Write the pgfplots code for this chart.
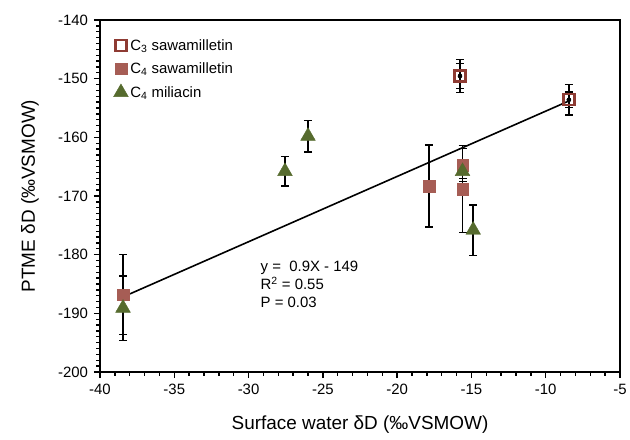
\documentclass[border=0pt]{standalone}
\usepackage{pgfplots}
\pgfplotsset{compat=1.18}
\usepackage{pgfplotstable}
\usepackage{fontspec}
\setmainfont{Liberation Sans}
\definecolor{cthree}{HTML}{8E3B33}
\definecolor{cfour}{HTML}{A65D55}
\definecolor{mil}{HTML}{566B2E}

\pgfplotstableread{
x y e
-15.77 -149.55 2.85
-8.44 -153.6 2.6
}\cthreetab
\pgfplotstableread{
x y e
-15.77 -149.55 2.15
-8.44 -153.6 1.3
}\cthreetabb
\pgfplotstableread{
x y e
-38.45 -186.8 6.8
-17.86 -168.3 7.0
-15.6 -164.7 2.8
-15.6 -168.8 7.45
}\cfourtab
\pgfplotstableread{
x y e
-38.45 -189.1 5.5
-27.55 -165.8 2.5
-26.0 -159.8 2.7
-15.6 -165.8 1.2
-14.88 -175.8 4.3
}\miltab

\begin{document}
\begin{tikzpicture}
\path (-100bp,-68bp) rectangle (530bp,372bp);
\begin{axis}[
  at={(0,0)}, anchor=south west,
  scale only axis, width=520bp, height=352bp,
  xmin=-40, xmax=-5, ymin=-200, ymax=-140,
  xtick={-40,-35,...,-5}, ytick={-200,-190,...,-140},
  minor x tick num=4, minor y tick num=9,
  xtick pos=left, ytick pos=left,
  xtick align=outside, ytick align=outside,
  major tick length=6bp, minor tick length=3.5bp,
  xtick style={draw=black, line width=1.3pt},
  ytick style={draw=black, line width=1.3pt},
  axis line style={line width=1.8pt},
  /pgf/number format/assume math mode=true,
  tick label style={font=\fontsize{15}{18}\selectfont},
  xticklabel style={yshift=-3pt},
  yticklabel style={xshift=-2.5pt},
  xlabel={Surface water δD (‰VSMOW)},
  ylabel={PTME δD (‰VSMOW)},
  every axis x label/.style={at={(axis description cs:0.5,-0.1506)}, anchor=center, font=\fontsize{19}{22}\selectfont},
  every axis y label/.style={at={(axis description cs:-0.1346,0.5)}, anchor=center, rotate=90, font=\fontsize{19}{22}\selectfont},
  legend style={draw=none, fill=none, at={(0.02,0.957)}, anchor=north west,
    font=\fontsize{15}{18}\selectfont, row sep=7bp},
  legend cell align=left,
]
\addplot[forget plot, only marks, mark=none, error bars/.cd, y dir=both, y explicit,
  error bar style={draw=black, line width=1.5bp}, error mark options={draw=black, rotate=90, mark size=4bp, line width=1.5bp}]
  table[x=x, y=y, y error=e] {\cthreetab};
\addplot[forget plot, only marks, mark=none, error bars/.cd, y dir=both, y explicit,
  error bar style={draw=black, line width=1.5bp}, error mark options={draw=black, rotate=90, mark size=4bp, line width=1.5bp}]
  table[x=x, y=y, y error=e] {\cthreetabb};
\addplot[forget plot, only marks, mark=none, error bars/.cd, y dir=both, y explicit,
  error bar style={draw=black, line width=1.5bp}, error mark options={draw=black, rotate=90, mark size=4bp, line width=1.5bp}]
  table[x=x, y=y, y error=e] {\cfourtab};
\addplot[forget plot, only marks, mark=none, error bars/.cd, y dir=both, y explicit,
  error bar style={draw=black, line width=1.5bp}, error mark options={draw=black, rotate=90, mark size=4bp, line width=1.5bp}]
  table[x=x, y=y, y error=e] {\miltab};
\addplot[only marks, mark=square, mark size=5.5bp, mark options={line width=2.4bp, draw=cthree, fill=white}]
  table[x=x, y=y] {\cthreetab};
\addlegendentry{C\textsubscript{3} sawamilletin}
\addplot[only marks, mark=square*, mark size=5.8bp, mark options={draw=cfour, fill=cfour}]
  table[x=x, y=y] {\cfourtab};
\addlegendentry{C\textsubscript{4} sawamilletin}
\addplot[only marks, mark=triangle*, mark size=8.5bp, mark options={draw=mil, fill=mil}]
  table[x=x, y=y] {\miltab};
\addlegendentry{C\textsubscript{4} miliacin}
\addplot[forget plot, black, line width=1.6bp, no marks] coordinates {(-38.45,-187.2) (-8.44,-153.8)};
\node[anchor=north west, align=left, inner sep=0pt, font=\fontsize{15}{18.3}\selectfont]
  at (axis cs:-29.2,-181) {y =\ \ 0.9X - 149\\R\textsuperscript{2} = 0.55\\P = 0.03};
\end{axis}
\end{tikzpicture}
\end{document}
